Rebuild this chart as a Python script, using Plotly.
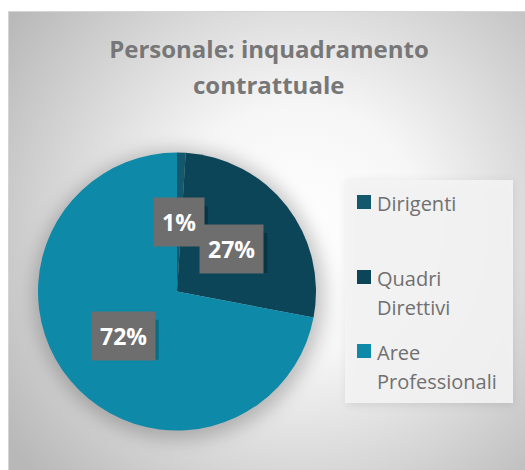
import math
import base64
import plotly.graph_objects as go

# ---- data ----
categories = ["Dirigenti", "Quadri Direttivi", "Aree Professionali"]
legend_lines = [["Dirigenti"], ["Quadri", "Direttivi"], ["Aree", "Professionali"]]
values = [1, 27, 72]
colors = ["#13586c", "#0b4557", "#0e8aa8"]
title_lines = ["Personale: inquadramento", "contrattuale"]

W, H = 525, 470
# pie geometry (pixels)
CX, CY, R = 177, 291.5, 139
FONT = "Open Sans, Lato, sans-serif"
LBL_SIZE = 23

def px(x):
    return x / W

def py(y):
    return 1 - y / H

# ---- background (radial gradient + soft shadows) ----
svg = f'''<svg xmlns="http://www.w3.org/2000/svg" width="{W}" height="{H}" viewBox="0 0 {W} {H}">
<defs>
<radialGradient id="g" gradientUnits="userSpaceOnUse" cx="300" cy="230" r="360">
<stop offset="0" stop-color="#ffffff"/>
<stop offset="0.35" stop-color="#f6f6f6"/>
<stop offset="1" stop-color="#b8b8b8"/>
</radialGradient>
<filter id="b" x="-50%" y="-50%" width="200%" height="200%"><feGaussianBlur stdDeviation="9"/></filter>
<filter id="b2" x="-50%" y="-50%" width="200%" height="200%"><feGaussianBlur stdDeviation="4"/></filter>
</defs>
<rect x="0" y="0" width="{W}" height="{H}" fill="#ffffff"/>
<rect x="8.5" y="11.5" width="{W}" height="{H}" fill="url(#g)" stroke="#d4d4d4" stroke-width="1"/>
<circle cx="{CX+2}" cy="{CY+3}" r="{R+6}" fill="#000000" fill-opacity="0.22" filter="url(#b)"/>
<rect x="347" y="182" width="166" height="223" fill="#000000" fill-opacity="0.10" filter="url(#b2)"/>
<rect x="345" y="180" width="168" height="223" fill="#f4f4f4" fill-opacity="0.9"/>
</svg>'''
src = "data:image/svg+xml;base64," + base64.b64encode(svg.encode()).decode()

fig = go.Figure()
fig.add_trace(go.Pie(
    labels=categories,
    values=values,
    marker=dict(colors=colors, line=dict(width=0)),
    sort=False,
    direction="clockwise",
    rotation=0,
    textinfo="none",
    hoverinfo="label+percent",
    showlegend=False,
    domain=dict(x=[px(CX - R), px(CX + R)], y=[py(CY + R), py(CY - R)]),
))

annotations = []
shapes = []

# ---- percentage data labels (positioned at half radius along mid-angle) ----
total = sum(values)
cum = 0
for v in values:
    mid = (cum + v / 2) / total * 2 * math.pi
    cum += v
    lx = CX + 0.5 * R * math.sin(mid)
    ly = CY - 0.5 * R * math.cos(mid)
    txt = f"{round(v / total * 100)}%"
    # approximate box size for the drop shadow
    bw = (len(txt) - 1) * 0.57 * LBL_SIZE + 0.88 * LBL_SIZE + 16
    bh = 40
    shapes.append(dict(type="rect", xref="paper", yref="paper", layer="above",
                       x0=px(lx - bw / 2 + 4), x1=px(lx + bw / 2 + 4),
                       y0=py(ly + bh / 2 + 4), y1=py(ly - bh / 2 + 4),
                       fillcolor="rgba(0,0,0,0.22)", line=dict(width=0)))
    annotations.append(dict(
        x=px(lx), y=py(ly), xref="paper", yref="paper",
        text=f"<b>{txt}</b>", showarrow=False, font=dict(family=FONT, size=LBL_SIZE, color="#ffffff"),
        bgcolor="#6e6e6e", borderpad=8, xanchor="center", yanchor="middle",
    ))

# ---- legend (manual) ----
leg_font = dict(family=FONT, size=20, color="#707070")
baselines = [[209], [284, 313], [358, 387]]
for lines, col, bls in zip(legend_lines, colors, baselines):
    top = bls[0] - 14
    shapes.append(dict(type="rect", xref="paper", yref="paper",
                       x0=px(357), x1=px(371), y0=py(top + 14), y1=py(top),
                       fillcolor=col, line=dict(width=0)))
    for line, bl in zip(lines, bls):
        annotations.append(dict(
            x=px(375), y=py(bl - 6), xref="paper", yref="paper",
            text=line, showarrow=False, font=leg_font,
            xanchor="left", yanchor="middle",
        ))

# ---- title (second line as annotation to match the line spacing) ----
title_font = dict(family=FONT, size=24, color="#777777")
annotations.append(dict(
    x=px(268), y=py(85), xref="paper", yref="paper",
    text=f"<b>{title_lines[1]}</b>", showarrow=False, font=title_font,
    xanchor="center", yanchor="middle",
))

fig.update_layout(
    width=W, height=H,
    margin=dict(l=0, r=0, t=0, b=0),
    paper_bgcolor="rgba(0,0,0,0)",
    plot_bgcolor="rgba(0,0,0,0)",
    title=dict(
        text=f"<b>{title_lines[0]}</b>",
        x=px(269), xanchor="center", y=py(50), yanchor="middle",
        font=title_font,
    ),
    images=[dict(source=src, xref="paper", yref="paper", x=0, y=1, sizex=1, sizey=1,
                 sizing="stretch", xanchor="left", yanchor="top", layer="below")],
    annotations=annotations,
    shapes=shapes,
)

fig.write_html("out.html", config={"displayModeBar": False},
               post_script="document.body.style.margin='0px';")
